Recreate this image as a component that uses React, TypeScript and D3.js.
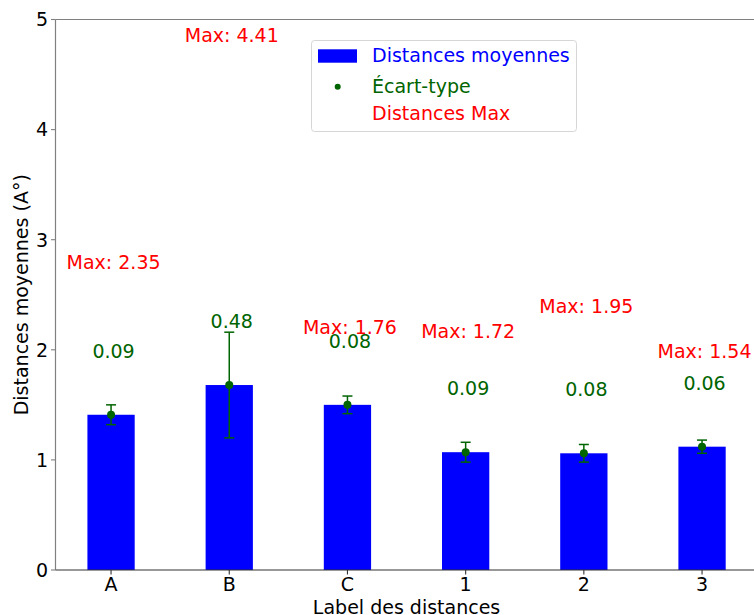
import React from "react";
import * as d3 from "d3";

const categories = ["A", "B", "C", "1", "2", "3"];
const means = [1.41, 1.68, 1.5, 1.07, 1.06, 1.12];
const stds = [0.09, 0.48, 0.08, 0.09, 0.08, 0.06];
const maxes = [2.35, 4.41, 1.76, 1.72, 1.95, 1.54];
const yTicks = [0, 1, 2, 3, 4, 5];

const W = 754;
const H = 615;
const FONT = "DejaVu Sans, sans-serif";
const FS = 19;
const GREEN = "#006400";

export default function App() {
  const x = d3.scaleLinear().domain([-0.47, 5.47]).range([55.5, 757.6]);
  const y = d3.scaleLinear().domain([0, 5]).range([570, 19.5]);
  const bw = x(0.4) - x(0);
  const left = x(-0.47);
  const right = x(5.47);
  const top = y(5);
  const bottom = y(0);

  return (
    <div style={{ position: "absolute", left: 0, top: 0 }}>
      <svg width={W} height={H} style={{ display: "block", fontFamily: FONT }}>
        <rect x={0} y={0} width={W} height={H} fill="white" />
        {/* bars */}
        {means.map((m, i) => (
          <rect
            key={"b" + i}
            x={x(i) - bw / 2}
            y={y(m)}
            width={bw}
            height={y(0) - y(m)}
            fill="#0000ff"
          />
        ))}
        {/* error bars */}
        {means.map((m, i) => (
          <g key={"e" + i} stroke={GREEN} strokeWidth={1.5}>
            <line x1={x(i)} x2={x(i)} y1={y(m - stds[i])} y2={y(m + stds[i])} />
            <line x1={x(i) - 5} x2={x(i) + 5} y1={y(m - stds[i])} y2={y(m - stds[i])} />
            <line x1={x(i) - 5} x2={x(i) + 5} y1={y(m + stds[i])} y2={y(m + stds[i])} />
            <circle cx={x(i)} cy={y(m)} r={4} fill={GREEN} stroke="none" />
          </g>
        ))}
        {/* std labels */}
        {means.map((m, i) => (
          <text
            key={"s" + i}
            x={x(i) + 2.5}
            y={y(m + 0.5) - 2}
            textAnchor="middle"
            fontSize={FS}
            fill={GREEN}
          >
            {stds[i].toFixed(2)}
          </text>
        ))}
        {/* max labels */}
        {maxes.map((mx, i) => (
          <text
            key={"m" + i}
            x={x(i) + 2.5}
            y={y(mx + 0.4) + 1.5}
            textAnchor="middle"
            fontSize={FS}
            fill="#ff0000"
          >
            {"Max: " + mx.toFixed(2)}
          </text>
        ))}
        {/* spines */}
        <line x1={left} x2={right} y1={top} y2={top} stroke="#808080" strokeWidth={1.2} />
        <line x1={left} x2={left} y1={top} y2={bottom} stroke="#808080" strokeWidth={1.2} />
        <line x1={left} x2={right} y1={bottom} y2={bottom} stroke="#333333" strokeWidth={1.2} />
        {/* y ticks */}
        {yTicks.map((t) => (
          <g key={"yt" + t}>
            <line x1={left - 4.5} x2={left} y1={y(t)} y2={y(t)} stroke="#808080" strokeWidth={1.1} />
            <text x={left - 7.5} y={y(t)} dy="0.36em" textAnchor="end" fontSize={FS} fill="#000">
              {t}
            </text>
          </g>
        ))}
        {/* x ticks */}
        {categories.map((c, i) => (
          <g key={"xt" + i}>
            <line x1={x(i)} x2={x(i)} y1={bottom} y2={bottom + 4.5} stroke="#333333" strokeWidth={1.1} />
            <text x={x(i)} y={591} textAnchor="middle" fontSize={FS} fill="#000">
              {c}
            </text>
          </g>
        ))}
        {/* axis labels */}
        <text x={(left + right) / 2} y={614} textAnchor="middle" fontSize={FS} fill="#000">
          Label des distances
        </text>
        <text
          transform={`translate(27.5,${(top + bottom) / 2}) rotate(-90)`}
          textAnchor="middle"
          fontSize={FS}
          fill="#000"
        >
          Distances moyennes (A°)
        </text>
        {/* legend */}
        <g>
          <rect x={311.5} y={40.5} width={265} height={91} rx={3} fill="white" fillOpacity={0.8} stroke="#d6d6d6" />
          <rect x={318} y={49.3} width={39} height={13.4} fill="#0000ff" />
          <text x={372} y={62.3} fontSize={FS} fill="#0000ff">Distances moyennes</text>
          <circle cx={337.7} cy={86.7} r={3} fill={GREEN} />
          <text x={372} y={93.3} fontSize={FS} fill={GREEN}>Écart-type</text>
          <text x={372} y={120} fontSize={FS} fill="#ff0000">Distances Max</text>
        </g>
      </svg>
    </div>
  );
}
